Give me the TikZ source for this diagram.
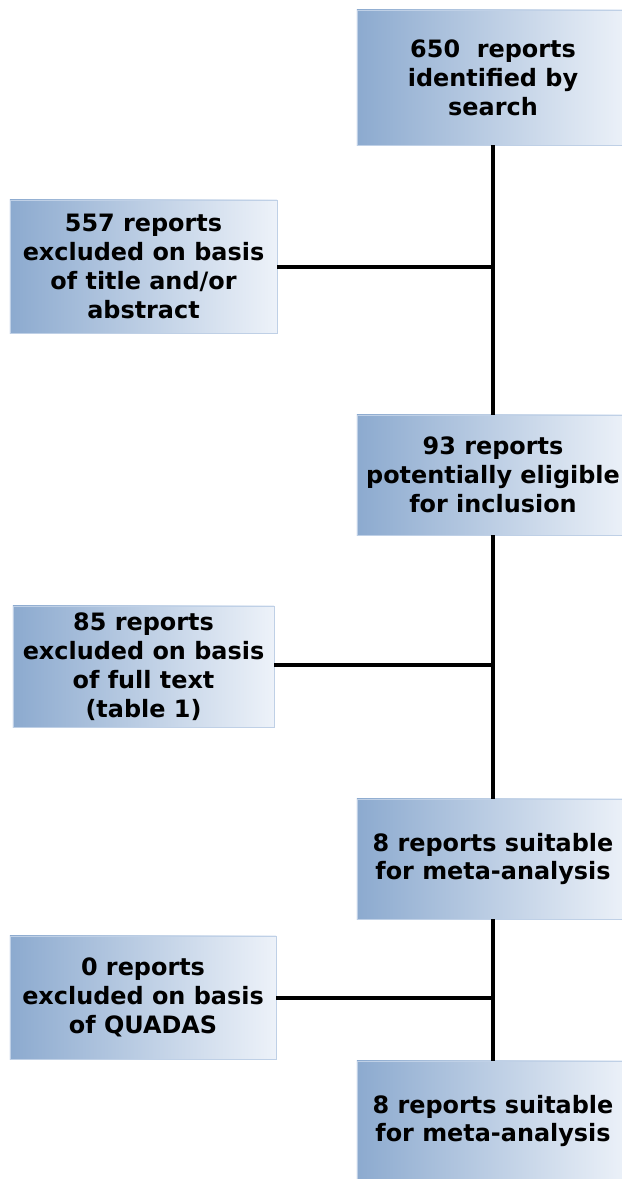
\documentclass[tikz,border=0pt]{standalone}
\usepackage{fontspec}
\setmainfont{DejaVu Sans}
\usepackage{tikz}
\usetikzlibrary{positioning}
\definecolor{boxleft}{HTML}{8CAACF}
\definecolor{boxright}{HTML}{EDF2F9}
\definecolor{boxline}{HTML}{BFD0E6}
\tikzstyle{report}=[draw=boxline, line width=0.6pt, left color=boxleft, right color=boxright,
    align=center, inner sep=0pt, font=\bfseries\fontsize{17}{20.6}\selectfont]
\tikzstyle{flow}=[line width=2.8pt, black]

\begin{document}
\begin{tikzpicture}[x=0.025cm, y=-0.025cm]
\useasboundingbox (0,0) rectangle (622,1179);
\node[report, minimum width=6.8cm, minimum height=3.375cm] (rep650) at (493,77.5){650~ reports\\identified by\\search};
\node[report, minimum width=6.675cm, minimum height=3.325cm] (ex557) at (143.5,266.5){557 reports\\excluded on basis\\of title and/or\\abstract};
\node[report, minimum width=6.8cm, minimum height=3cm] (rep93) at (493,475){93 reports\\potentially eligible\\for inclusion};
\node[report, minimum width=6.525cm, minimum height=3.025cm] (ex85) at (143.5,666.5){85 reports\\excluded on basis\\of full text\\(table 1)};
\node[report, minimum width=6.8cm, minimum height=3cm] (rep8a) at (493,859){8 reports suitable\\for meta-analysis};
\node[report, minimum width=6.65cm, minimum height=3.075cm] (ex0) at (143,997.5){0 reports\\excluded on basis\\of QUADAS};
\node[report, minimum width=6.8cm, minimum height=3cm] (rep8b) at (493,1121){8 reports suitable\\for meta-analysis};
\coordinate (jn1) at (493,267);
\coordinate (jn2) at (493,665);
\coordinate (jn3) at (493,998);
\draw[flow](rep650) -- (rep93);
\draw[flow](rep93) -- (rep8a);
\draw[flow](rep8a) -- (rep8b);
\draw[flow](ex557.east |- jn1) -- (jn1);
\draw[flow](ex85.east |- jn2) -- (jn2);
\draw[flow](ex0.east |- jn3) -- (jn3);
\end{tikzpicture}
\end{document}
